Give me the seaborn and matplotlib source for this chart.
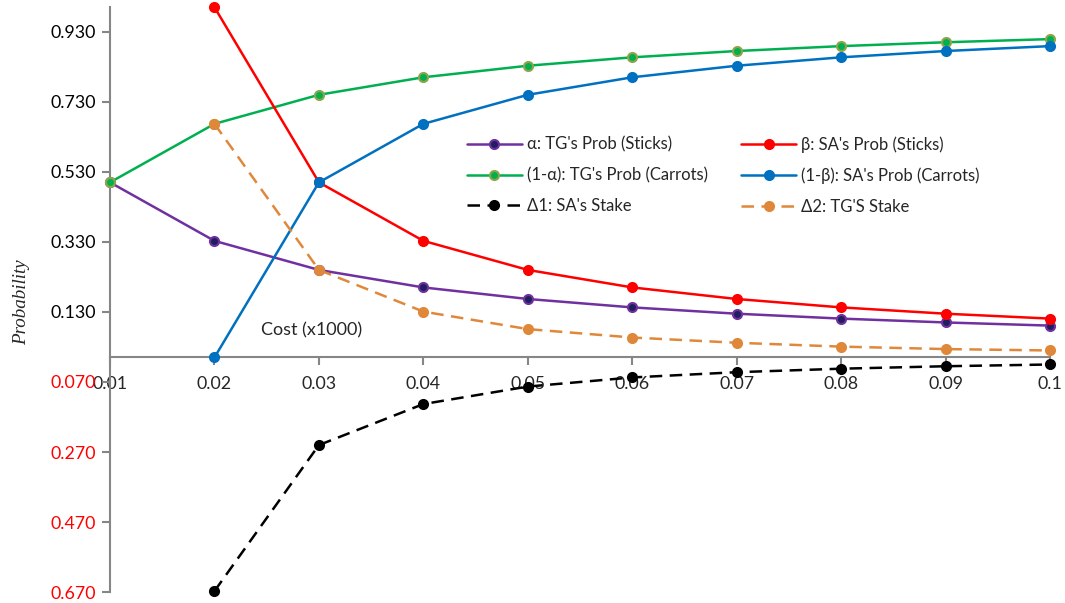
import numpy as np
import pandas as pd
import matplotlib.pyplot as plt
import seaborn as sns

# Values
cost = [0.01, 0.02, 0.03, 0.04, 0.05, 0.06, 0.07, 0.08, 0.09, 0.10]
alpha = [0.500, 0.333, 0.250, 0.200, 0.167, 0.143, 0.125, 0.111, 0.100, 0.091]
one_minus_alpha = [0.500, 0.667, 0.750, 0.800, 0.833, 0.857, 0.875, 0.889, 0.900, 0.909]
beta = [np.nan, 1.000, 0.500, 0.333, 0.250, 0.200, 0.167, 0.143, 0.125, 0.111]
one_minus_beta = [np.nan, 0.000, 0.500, 0.667, 0.750, 0.800, 0.833, 0.857, 0.875, 0.889]
delta1 = [np.nan, -0.667, -0.250, -0.133, -0.083, -0.057, -0.042, -0.032, -0.025, -0.020]
delta2 = [np.nan, 0.667, 0.250, 0.131, 0.081, 0.057, 0.042, 0.031, 0.024, 0.020]

yticks = [-0.67, -0.47, -0.27, -0.07, 0.13, 0.33, 0.53, 0.73, 0.93]
xticks = [0.01, 0.02, 0.03, 0.04, 0.05, 0.06, 0.07, 0.08, 0.09, 0.10]
xtick_labels = ['0.01', '0.02', '0.03', '0.04', '0.05', '0.06', '0.07', '0.08', '0.09', '0.1']

sns.set_style('white')
plt.rcParams['font.family'] = ['Lato', 'DejaVu Sans']

fig = plt.figure(figsize=(10.65, 6.03), dpi=100)
ax = fig.add_axes([0.1033, 0.018, 0.8827, 0.970])

dash = (0, (5, 3))
series = [
    ("α: TG's Prob (Sticks)", alpha, dict(color='#7030A0', markerfacecolor='#1F1F5F', markeredgecolor='#7030A0', linestyle='-')),
    ("(1-α): TG's Prob (Carrots)", one_minus_alpha, dict(color='#00B050', markerfacecolor='#00B050', markeredgecolor='#8DA64A', linestyle='-')),
    ("Δ1: SA's Stake", delta1, dict(color='black', markerfacecolor='black', markeredgecolor='black', linestyle=dash)),
    ("β: SA's Prob (Sticks)", beta, dict(color='#FF0000', markerfacecolor='#FF0000', markeredgecolor='#FF0000', linestyle='-')),
    ("(1-β): SA's Prob (Carrots)", one_minus_beta, dict(color='#0070C0', markerfacecolor='#0070C0', markeredgecolor='#0070C0', linestyle='-')),
    ("Δ2: TG'S Stake", delta2, dict(color='#E0883A', markerfacecolor='#E0883A', markeredgecolor='#E0883A', linestyle=dash)),
]

for name, vals, style in series:
    df = pd.DataFrame({'cost': cost, 'value': vals}).dropna()
    sns.lineplot(data=df, x='cost', y='value', ax=ax, label=name, marker='o',
                 markersize=6.5, markeredgewidth=1.5, linewidth=1.8,
                 clip_on=False, zorder=3, **style)

ax.set_xlim(0.01, 0.1)
ax.set_ylim(-0.67, 1.0)

ax.spines['top'].set_visible(False)
ax.spines['right'].set_visible(False)
ax.spines['bottom'].set_position(('data', 0))
for s in ['left', 'bottom']:
    ax.spines[s].set_color('#868686')
    ax.spines[s].set_linewidth(1.5)

ax.set_xticks(xticks)
ax.set_xticklabels(xtick_labels)
ax.set_yticks(yticks)
ax.set_yticklabels([f'{abs(v):.3f}' for v in yticks])
for lbl, v in zip(ax.get_yticklabels(), yticks):
    lbl.set_color('red' if v < 0 else 'black')

ax.tick_params(axis='both', which='both', direction='out', length=6, width=1.5,
               color='#868686', labelsize=12.8, left=True, bottom=True)
ax.tick_params(axis='x', pad=7)
ax.tick_params(axis='y', pad=4)

ax.set_xlabel('')
ax.set_ylabel('Probability', family='Liberation Serif', style='italic', fontsize=13.7)
ax.yaxis.set_label_coords(-0.085, 0.495)

ax.text(0.02925, 0.076, 'Cost (x1000)', fontsize=13, ha='center', va='center')

leg = ax.legend(loc='upper left', bbox_to_anchor=(0.432, 0.785), bbox_transform=fig.transFigure,
                ncol=2, frameon=False, fontsize=12, handlelength=3.3, handletextpad=0.3,
                columnspacing=2.0, labelspacing=0.88, borderaxespad=0)

plt.savefig('out.png', dpi=100)
